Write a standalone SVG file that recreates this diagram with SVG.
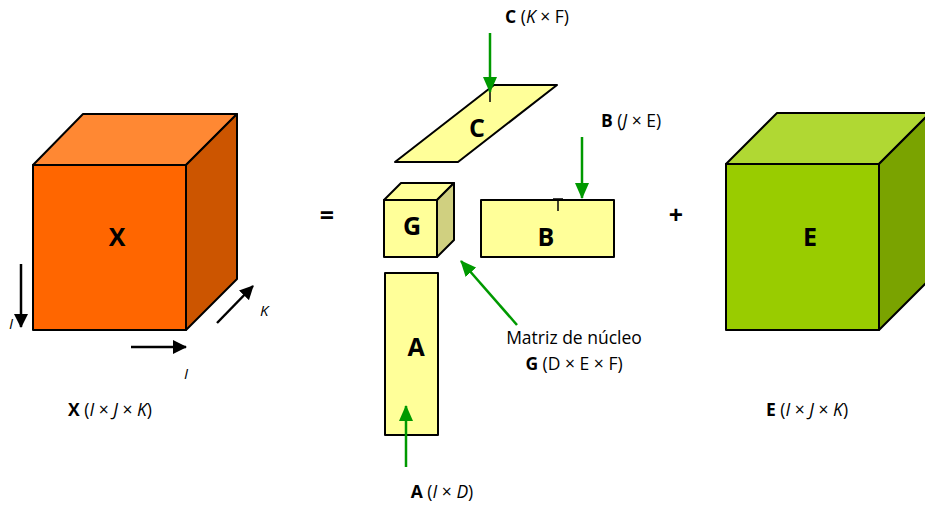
<svg xmlns="http://www.w3.org/2000/svg" width="925" height="506" viewBox="0 0 925 506">
<style>
.edge{stroke:#000;stroke-width:2;stroke-linejoin:round}
.lbl{font-family:"Open Sans","Liberation Sans",sans-serif;font-size:17.5px;fill:#000;text-anchor:middle}
.big{font-family:"Open Sans","Liberation Sans",sans-serif;font-size:25px;font-weight:bold;fill:#000;text-anchor:middle}
.ax{font-family:"Open Sans","Liberation Sans",sans-serif;font-size:15px;font-style:italic;fill:#000}
.g{stroke:#009900;stroke-width:2.5;fill:none}
.k{stroke:#000;stroke-width:2.5;fill:none}
</style>
<defs>
<marker id="gm" markerWidth="16" markerHeight="14" refX="15" refY="7" orient="auto" markerUnits="userSpaceOnUse" viewBox="0 0 16 14">
<path d="M0,0 L16,7 L0,14 z" fill="#009900"/>
</marker>
<marker id="km" markerWidth="14" markerHeight="14" refX="13" refY="7" orient="auto" markerUnits="userSpaceOnUse" viewBox="0 0 14 14">
<path d="M0,0 L14,7 L0,14 z" fill="#000"/>
</marker>
</defs>

<g id="cubeX">
<polygon class="edge" points="33,165 83,114 237,114 186,165" fill="#FF8833"/>
<polygon class="edge" points="186,165 237,114 237,279 186,330" fill="#CC5500"/>
<rect class="edge" x="33" y="165" width="153" height="165" fill="#FF6600"/>
<text class="big" x="117" y="246">X</text>
</g>
<g id="axes">
<line class="k" x1="21" y1="264" x2="21" y2="327" marker-end="url(#km)"/>
<text class="ax" x="9" y="329">I</text>
<line class="k" x1="131" y1="347" x2="186" y2="347" marker-end="url(#km)"/>
<text class="ax" x="184" y="379">I</text>
<line class="k" x1="217" y1="323" x2="253" y2="286" marker-end="url(#km)"/>
<text class="ax" x="260" y="316">K</text>
</g>
<text class="lbl" x="110" y="416"><tspan font-weight="bold">X</tspan> (<tspan font-style="italic">I</tspan> × <tspan font-style="italic">J</tspan> × <tspan font-style="italic">K</tspan>)</text>

<text class="big" x="327" y="224" font-size="24">=</text>

<g id="C">
<polygon class="edge" points="494,85 557,85 458,162 395,162" fill="#FFFF99"/>
<text class="big" x="477" y="137">C</text>
<line x1="490" y1="88" x2="490" y2="102" stroke="#000" stroke-width="1.5"/>
</g>
<g id="G">
<polygon class="edge" points="384,200 401,183 454,183 437,200" fill="#FFFF99"/>
<polygon class="edge" points="437,200 454,183 454,240 437,257" fill="#D0D080"/>
<rect class="edge" x="384" y="200" width="53" height="57" fill="#FFFF99"/>
<text class="big" x="412" y="235">G</text>
</g>
<g id="B">
<rect class="edge" x="481" y="200" width="133" height="57" fill="#FFFF99"/>
<text class="big" x="546" y="246">B</text>
<path d="M553,199 H563 M558,199 V211" stroke="#000" stroke-width="1.5" fill="none"/>
</g>
<g id="A">
<rect class="edge" x="385" y="273" width="53" height="162" fill="#FFFF99"/>
<text class="big" x="416" y="356">A</text>
</g>

<g id="connectors">
<line class="g" x1="490" y1="33" x2="490" y2="92" marker-end="url(#gm)"/>
<line class="g" x1="582" y1="137" x2="582" y2="198" marker-end="url(#gm)"/>
<line class="g" x1="406" y1="467" x2="406" y2="406" marker-end="url(#gm)"/>
<line class="g" x1="517" y1="325" x2="461" y2="261" marker-end="url(#gm)"/>
</g>

<text class="lbl" x="537" y="23"><tspan font-weight="bold">C</tspan> (<tspan font-style="italic">K</tspan> × F)</text>
<text class="lbl" x="631" y="127"><tspan font-weight="bold">B</tspan> (<tspan font-style="italic">J</tspan> × E)</text>
<text class="lbl" x="574" y="344">Matriz de núcleo</text>
<text class="lbl" x="574" y="370"><tspan font-weight="bold">G</tspan> (D × E × F)</text>
<text class="lbl" x="442" y="498"><tspan font-weight="bold">A</tspan> (<tspan font-style="italic">I</tspan> × <tspan font-style="italic">D</tspan>)</text>

<text class="big" x="676" y="224" font-size="24">+</text>

<g id="cubeE">
<polygon class="edge" points="726,164 777,113 930,113 879,164" fill="#B0D833"/>
<polygon class="edge" points="879,164 930,113 930,279 879,330" fill="#7AA300"/>
<rect class="edge" x="726" y="164" width="153" height="166" fill="#99CC00"/>
<text class="big" x="810" y="246">E</text>
</g>
<text class="lbl" x="807" y="416"><tspan font-weight="bold">E</tspan> (<tspan font-style="italic">I</tspan> × <tspan font-style="italic">J</tspan> × <tspan font-style="italic">K</tspan>)</text>
</svg>
